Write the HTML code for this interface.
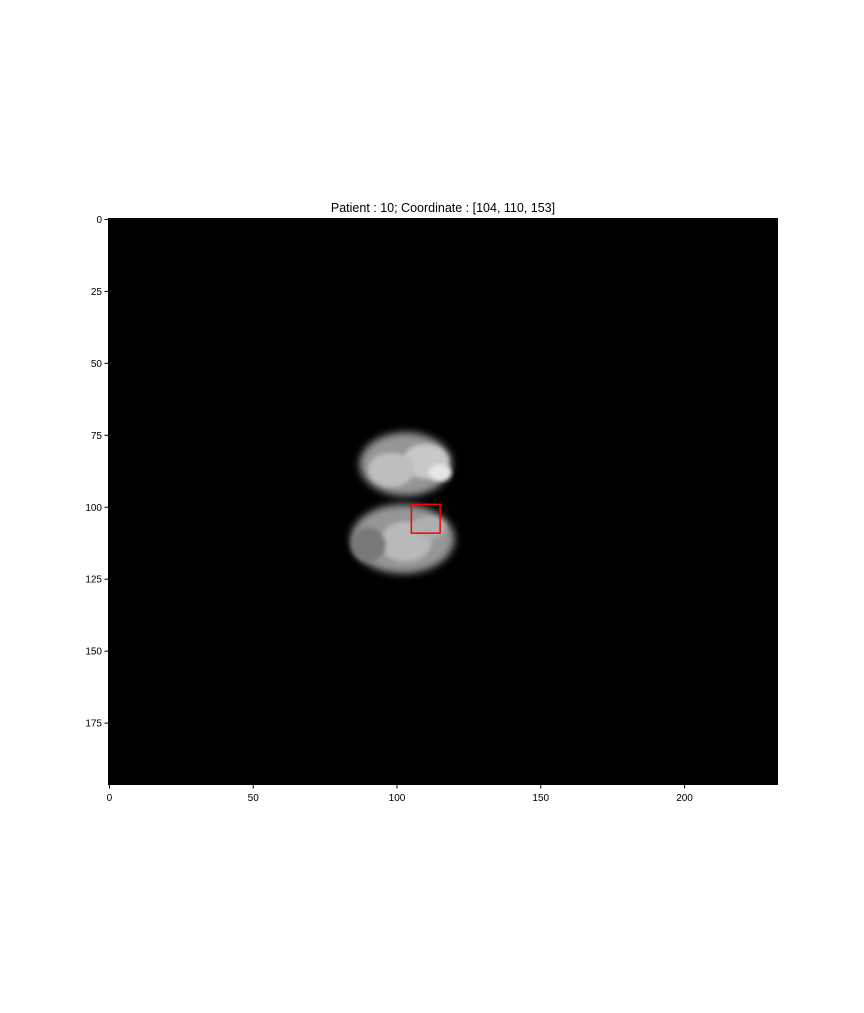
<!DOCTYPE html>
<html><head><meta charset="utf-8"><style>
body{margin:0;background:#fff;width:864px;height:1008px;overflow:hidden;font-family:"Liberation Sans",sans-serif}
svg text{font-family:"Liberation Sans",sans-serif}
</style></head><body>
<svg id="chart" width="864" height="1008" viewBox="0 0 864 1008" xmlns="http://www.w3.org/2000/svg">
<defs>
<filter id="blur" x="-20%" y="-20%" width="140%" height="140%"><feGaussianBlur stdDeviation="4"/></filter>
<filter id="blur2"><feGaussianBlur stdDeviation="2"/></filter>
</defs>
<text x="443" y="212" text-anchor="middle" font-size="12.5" fill="#000">Patient : 10; Coordinate : [104, 110, 153]</text>
<g id="plot"></g>
</svg>
<script>
const xTicks=[0,50,100,150,200];
const yTicks=[0,25,50,75,100,125,150,175];
const nCols=233, nRows=197;
const boxX=[105.5,115.5], boxY=[99.5,109.5];
// blob regions
const blobCx=[103,102,110,98,103,111,115,90];
const blobCy=[85,111,84,87,112,107,88,113];
const blobRx=[16,18,8,8,9,6,4,6];
const blobRy=[11,12,6,6,7,4,3,6];
const blobL=[150,150,200,190,185,175,230,120];

const X0=108,X1=778,Y0=218,Y1=785;
const sx=v=>X0+(v+0.5)*(X1-X0)/nCols;
const sy=v=>Y0+(v+0.5)*(Y1-Y0)/nRows;
const kx=(X1-X0)/nCols, ky=(Y1-Y0)/nRows;
const NS="http://www.w3.org/2000/svg";
const g=document.getElementById('plot');
function mk(t,a){const e=document.createElementNS(NS,t);for(const k in a)e.setAttribute(k,a[k]);g.appendChild(e);return e;}
let bg=mk('rect',{x:X0,y:Y0,width:X1-X0,height:Y1-Y0,fill:'#000'});


for(let i=0;i<blobCx.length;i++){
  const c=blobL[i];
  const e=mk('ellipse',{cx:sx(blobCx[i]),cy:sy(blobCy[i]),rx:blobRx[i]*kx,ry:blobRy[i]*ky,fill:`rgb(${c},${c},${c})`,filter:i<2?'url(#blur)':'url(#blur2)'});
  
  
}
const bx=sx(boxX[0]-0.5),by=sy(boxY[0]-0.5),bw=(boxX[1]-boxX[0])*kx,bh=(boxY[1]-boxY[0])*ky;
const r=mk('rect',{x:bx,y:by,width:bw,height:bh,fill:'none',stroke:'#ff0000','stroke-width':1.5});


xTicks.forEach(t=>{
  const x=sx(t);
  const l=mk('line',{x1:x,x2:x,y1:Y1,y2:Y1+3.5,stroke:'#000'});
  
  
  const tx=mk('text',{x:x,y:Y1+16,'text-anchor':'middle','font-size':10});
  tx.textContent=t;
  
  
});
yTicks.forEach(t=>{
  const y=sy(t);
  const l=mk('line',{x1:X0-3.5,x2:X0,y1:y,y2:y,stroke:'#000'});
  
  
  const tx=mk('text',{x:X0-6,y:y+3.5,'text-anchor':'end','font-size':10});
  tx.textContent=t;
  
  
});
</script>
</body></html>
